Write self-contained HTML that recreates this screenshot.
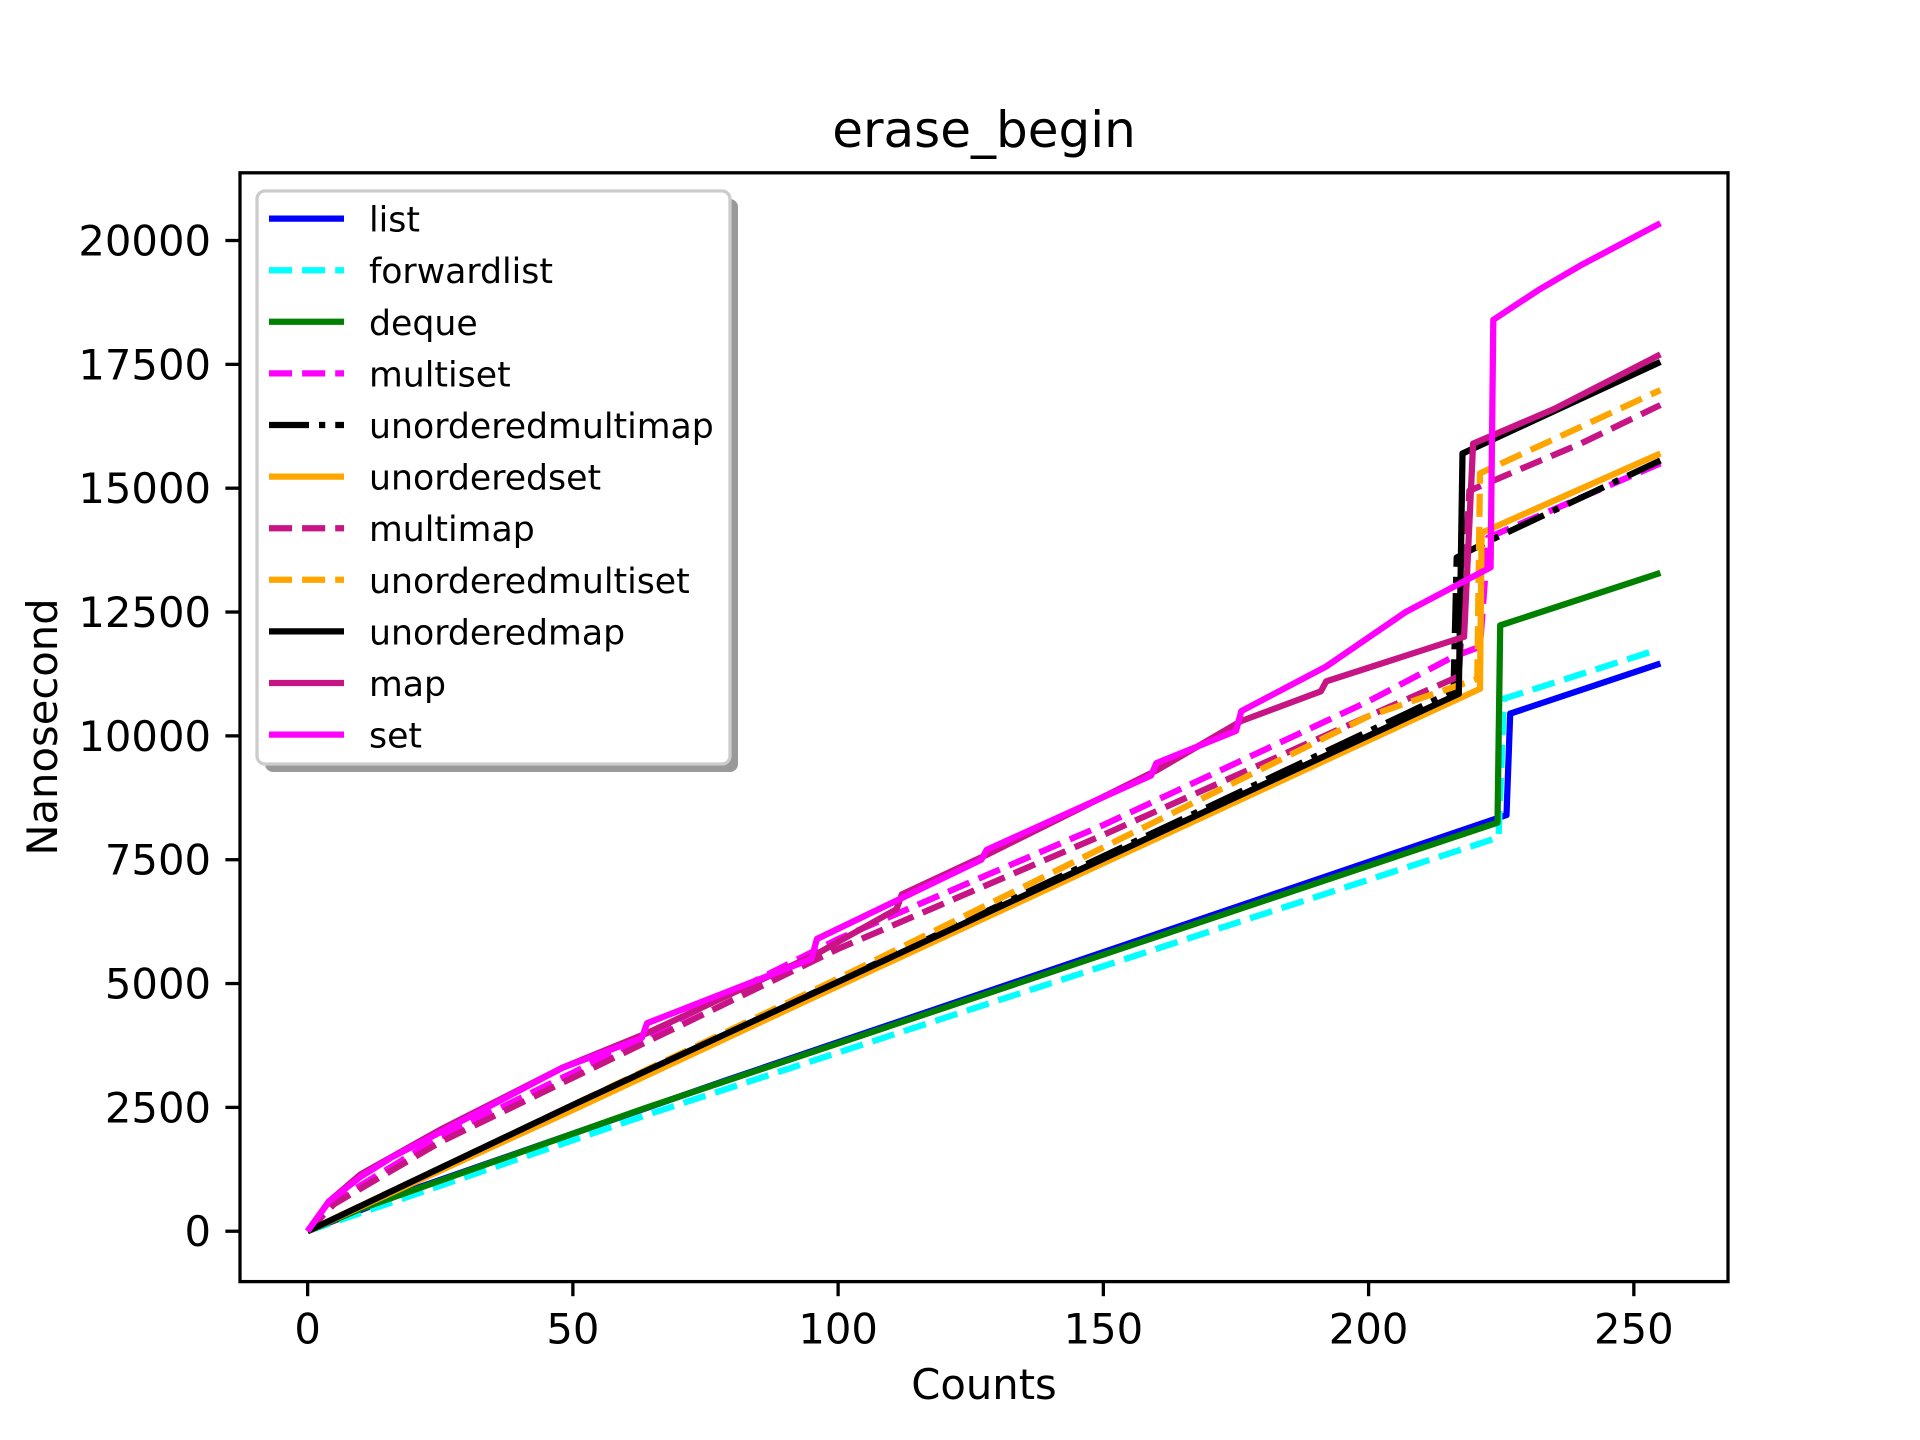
<!DOCTYPE html>
<html><head><meta charset="utf-8"><style>
html,body{margin:0;padding:0;background:#fff;}
svg{display:block;font-family:"DejaVu Sans","Liberation Sans",sans-serif;}
</style></head><body>
<svg id="chart" width="1920" height="1440" viewBox="0 0 1920 1440" xmlns="http://www.w3.org/2000/svg">
<rect x="0" y="0" width="1920" height="1440" fill="#fff"/>
<text x="984" y="147" font-size="50" text-anchor="middle">erase_begin</text>
<g id="plot"></g>
<g id="xticks"></g>
<g id="yticks"></g>
<rect x="240" y="172.8" width="1488" height="1108.8" fill="none" stroke="#000" stroke-width="3.3"/>
<text x="984" y="1399" font-size="41.7" text-anchor="middle">Counts</text>
<text x="0" y="0" font-size="41.7" text-anchor="middle" transform="translate(57,727) rotate(-90)">Nanosecond</text>
<g id="legend">
<rect x="265" y="199" width="473" height="573" rx="8" fill="#999"/>
<rect x="257" y="191" width="473" height="573" rx="8" fill="#fff" stroke="#ccc" stroke-width="3.3"/>
</g>
</svg>
<script>
const names = ["list","forwardlist","deque","multiset","unorderedmultimap","unorderedset","multimap","unorderedmultiset","unorderedmap","map","set"];
const colors = ["#0000ff","#00ffff","#008000","#ff00ff","#000000","#ffa500","#c71585","#ffa500","#000000","#c71585","#ff00ff"];
const styles = ["solid","dashed","solid","dashed","dashdot","solid","dashed","dashed","solid","solid","solid"];
const xList = [0,20,79,226,226.7,255];
const yList = [0,850,3050,8400,10450,11460];
const xForward = [0,64,224.5,225.5,253];
const yForward = [0,2350,7950,10750,11690];
const xDeque = [0,10,64,224.3,224.8,255];
const yDeque = [0,450,2500,8250,12230,13290];
const xMultiset = [0,5,25,50,100,150,200,216,221,222.5,255];
const yMultiset = [0,600,1900,3200,5900,8200,10700,11600,11800,14000,15500];
const xUMultimap = [0,216,216.6,222,255];
const yUMultimap = [0,10900,13600,13900,15560];
const xUSet = [0,50,100,221,221.3,255];
const yUSet = [0,2450,4950,10950,14100,15700];
const xMultimap = [0,5,25,50,100,150,200,217,219,240,255];
const yMultimap = [0,550,1800,3100,5700,8000,10400,11200,14950,15900,16680];
const xUMultiset = [0,100,200,220.5,221,255];
const yUMultiset = [0,5100,10400,11150,15300,16980];
const xUMap = [0,50,217,217.7,255];
const yUMap = [0,2550,10850,15700,17550];
const xMap = [0,4,10,25,48,64,96,111,112,128,160,176,191,192,218,219.7,235,255];
const yMap = [0,600,1150,2050,3300,4000,5600,6500,6800,7600,9300,10300,10900,11100,12000,15900,16600,17700];
const xSet = [0,4,10,16,25,48,63,64,95,96,127,128,159,160,175,176,192,207,223,223.5,232,240,255];
const ySet = [0,600,1100,1500,2000,3300,3900,4200,5500,5900,7500,7700,9200,9450,10100,10500,11400,12500,13400,18400,19000,19500,20350];
const xTicks = [0,50,100,150,200,250];
const yTicks = [0,2500,5000,7500,10000,12500,15000,17500,20000];

const seriesX = [xList,xForward,xDeque,xMultiset,xUMultimap,xUSet,xMultimap,xUMultiset,xUMap,xMap,xSet];
const seriesY = [yList,yForward,yDeque,yMultiset,yUMultimap,yUSet,yMultimap,yUMultiset,yUMap,yMap,ySet];

const NS = "http://www.w3.org/2000/svg";
const L=240,R=1728,T=172.8,B=1281.6;
const xMin=-12.75,xMax=267.75,yMin=-1017,yMax=21367;
function sx(v){return L+(v-xMin)/(xMax-xMin)*(R-L);}
function sy(v){return B-(v-yMin)/(yMax-yMin)*(B-T);}
function dash(s){return s==="dashed"?"23.1,10":(s==="dashdot"?"40,10,6.25,10":"none");}

const plot=document.getElementById('plot');
seriesX.forEach((xs,i)=>{
  const p=document.createElementNS(NS,'polyline');
  p.setAttribute('points',xs.map((x,j)=>sx(x).toFixed(1)+','+sy(seriesY[i][j]).toFixed(1)).join(' '));
  p.setAttribute('fill','none');
  p.setAttribute('stroke',colors[i]);
  p.setAttribute('stroke-width','6.25');
  p.setAttribute('stroke-linejoin','round');
  p.setAttribute('stroke-dasharray',dash(styles[i]));
  
  
  plot.appendChild(p);
});

const xg=document.getElementById('xticks');
xTicks.forEach(v=>{
  const l=document.createElementNS(NS,'line');
  l.setAttribute('x1',sx(v));l.setAttribute('x2',sx(v));
  l.setAttribute('y1',B);l.setAttribute('y2',B+14.6);
  l.setAttribute('stroke','#000');l.setAttribute('stroke-width','3.3');
  
  
  xg.appendChild(l);
  const t=document.createElementNS(NS,'text');
  t.setAttribute('x',sx(v));t.setAttribute('y',B+62);
  t.setAttribute('font-size','41.7');t.setAttribute('text-anchor','middle');
  t.textContent=v;
  
  
  xg.appendChild(t);
});
const yg=document.getElementById('yticks');
yTicks.forEach(v=>{
  const l=document.createElementNS(NS,'line');
  l.setAttribute('x1',L-14.6);l.setAttribute('x2',L);
  l.setAttribute('y1',sy(v));l.setAttribute('y2',sy(v));
  l.setAttribute('stroke','#000');l.setAttribute('stroke-width','3.3');
  
  
  yg.appendChild(l);
  const t=document.createElementNS(NS,'text');
  t.setAttribute('x',L-29);t.setAttribute('y',sy(v)+15);
  t.setAttribute('font-size','41.7');t.setAttribute('text-anchor','end');
  t.textContent=v;
  
  
  yg.appendChild(t);
});

const lg=document.getElementById('legend');
names.forEach((n,i)=>{
  const cy=218.6+i*51.6;
  const l=document.createElementNS(NS,'line');
  l.setAttribute('x1',269);l.setAttribute('x2',344);
  l.setAttribute('y1',cy);l.setAttribute('y2',cy);
  l.setAttribute('stroke',colors[i]);l.setAttribute('stroke-width','6.25');
  l.setAttribute('stroke-dasharray',dash(styles[i]));
  
  
  lg.appendChild(l);
  const t=document.createElementNS(NS,'text');
  t.setAttribute('x',369);t.setAttribute('y',cy+13);
  t.setAttribute('font-size','34.7');
  t.textContent=n;
  
  
  lg.appendChild(t);
});
</script>
</body></html>
